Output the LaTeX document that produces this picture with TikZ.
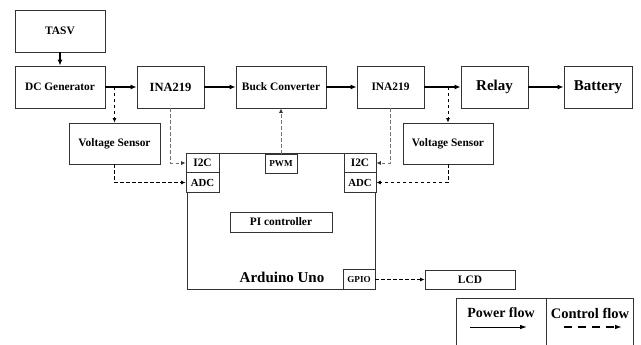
\documentclass[tikz,border=0pt]{standalone}
\usepackage{fontspec}
\setmainfont{Liberation Serif}
\usetikzlibrary{arrows.meta}
\newcommand{\fs}[1]{\fontsize{#1}{#1}\selectfont}
\tikzset{
  blk/.style={draw=black!80, line width=0.9pt, inner sep=0pt, font=\bfseries\fs{11.4}},
  pwr/.style={line width=1.5pt, -{Latex[length=6pt,width=5pt]}},
  ctl/.style={line width=0.75pt, dash pattern=on 3.5pt off 2.5pt, -{Latex[length=4.5pt,width=4pt,sep=0pt]}},
  ctlg/.style={ctl, draw=black!55, -{Latex[length=4.5pt,width=4pt,black!80]}},
}
\begin{document}
\begin{tikzpicture}[x=1pt,y=-1pt]
\useasboundingbox (0,0) rectangle (641,345);
% main power chain
\node[blk, minimum width=90pt, minimum height=42pt] (tasv) at (60,31) {TASV};
\node[blk, minimum width=90pt, minimum height=42pt] (dcg) at (60,87) {DC Generator};
\node[blk, minimum width=67pt, minimum height=42pt, font=\bfseries\fs{12.5}] (ina1) at (170.5,87) {INA219};
\node[blk, minimum width=90pt, minimum height=42pt] (buck) at (281,87) {Buck Converter};
\node[blk, minimum width=67pt, minimum height=42pt] (ina2) at (390.5,87) {INA219};
\node[blk, minimum width=67pt, minimum height=42pt, font=\bfseries\fs{15}] (relay) at (494.5,87) {Relay};
\node[blk, minimum width=68pt, minimum height=42pt, font=\bfseries\fs{15}] (batt) at (598,87) {Battery};
% sensors
\node[blk, minimum width=91pt, minimum height=41pt] (vs1) at (114.5,143.5) {Voltage Sensor};
\node[blk, minimum width=90pt, minimum height=41pt] (vs2) at (448,143.5) {Voltage Sensor};
% Arduino
\node[draw=black!80, line width=0.9pt, minimum width=188pt, minimum height=136pt, inner sep=0pt] (ard) at (281,221) {};
\node[font=\bfseries\fs{15}] (ardlbl) at (282,277) {Arduino Uno};
\node[blk, minimum width=33pt, minimum height=19.5pt, fill=white] (i2cl) at (202.5,163) {I2C};
\node[blk, minimum width=33pt, minimum height=19.5pt, fill=white, font=\bfseries\fs{10.8}] (adcl) at (202.5,182.5) {ADC};
\node[blk, minimum width=32pt, minimum height=19.5pt, fill=white] (i2cr) at (360,163) {I2C};
\node[blk, minimum width=32pt, minimum height=19.5pt, fill=white, font=\bfseries\fs{10.8}] (adcr) at (360,182.5) {ADC};
\node[blk, minimum width=32pt, minimum height=19pt, fill=white, font=\bfseries\fs{9.1}] (pwm) at (281,163.5) {PWM};
\node[blk, minimum width=102pt, minimum height=20pt] (pi) at (281,222) {PI controller};
\node[blk, minimum width=32pt, minimum height=20pt, fill=white, font=\bfseries\fs{9.1}] (gpio) at (359,279.5) {GPIO};
\node[blk, minimum width=90pt, minimum height=19pt] (lcd) at (470,279.5) {LCD};
% power arrows
\draw[pwr] (tasv) -- (dcg);
\draw[pwr] (dcg) -- (ina1);
\draw[pwr] (ina1) -- (buck);
\draw[pwr] (buck) -- (ina2);
\draw[pwr] (ina2) -- (relay);
\draw[pwr] (relay) -- (batt);
% control
\coordinate (t1) at (vs1.north |- dcg.east);
\coordinate (t2) at (vs2.north |- ina2.east);
\draw[ctl] (t1) -- (vs1.north);
\draw[ctl] (t2) -- (vs2.north);
\draw[ctlg] (ina1.south) |- (i2cl.west);
\draw[ctl] (vs1.south) |- (adcl.west);
\draw[ctlg] (pwm.north) -- (buck.south);
\draw[ctlg] (ina2.south) |- (i2cr.east);
\draw[ctl] (vs2.south) |- (adcr.east);
\draw[ctl] (gpio.east) -- (lcd.west);
% legend
\draw[black!80, line width=0.9pt] (456,345) -- (456,298) -- (633,298) -- (633,345);
\draw[black!80, line width=0.9pt] (546,298) -- (546,345);
\node[font=\bfseries\fs{14}] (lp) at (501,313) {Power flow};
\node[font=\bfseries\fs{14.5}] (lc) at (590,313) {Control flow};
\coordinate (pa) at (470,327);
\coordinate (pb) at (527,327);
\coordinate (ca) at (564,327);
\coordinate (cb) at (622,327);
\draw[line width=0.9pt, -{Latex[length=7pt,width=4.5pt]}] (pa) -- (pb);
\draw[line width=1.2pt, dash pattern=on 8pt off 6pt, -{Latex[length=7pt,width=4.5pt]}] (ca) -- (cb);
\end{tikzpicture}
\end{document}
